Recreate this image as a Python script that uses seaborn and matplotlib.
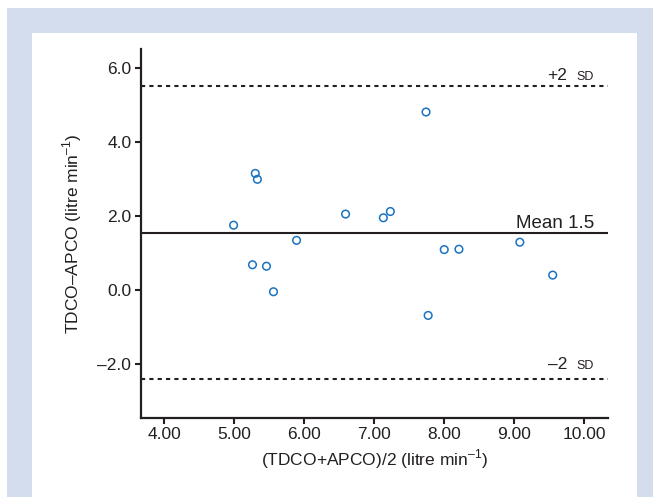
import matplotlib
import numpy as np
import pandas as pd
import seaborn as sns
import matplotlib.pyplot as plt
from matplotlib.patches import Rectangle
from matplotlib.ticker import FuncFormatter

# values
avg_co = [4.99, 5.30, 5.33, 5.26, 5.46, 5.56, 5.89, 6.59,
          7.13, 7.23, 7.74, 7.77, 8.00, 8.21, 9.08, 9.55]
diff_co = [1.75, 3.15, 2.99, 0.68, 0.64, -0.05, 1.34, 2.05,
           1.95, 2.12, 4.81, -0.69, 1.09, 1.10, 1.29, 0.40]
mean_diff = 1.53
upper_sd = 5.51
lower_sd = -2.40
x_ticks = [4, 5, 6, 7, 8, 9, 10]
y_ticks = [-2, 0, 2, 4, 6]

df = pd.DataFrame({'avg': avg_co, 'diff': diff_co})

sns.set_style('ticks')
plt.rcParams['font.family'] = ['Liberation Sans', 'DejaVu Sans']
plt.rcParams['mathtext.fontset'] = 'custom'
plt.rcParams['mathtext.rm'] = 'Liberation Sans'

ink = '#231f20'

fig = plt.figure(figsize=(6.53, 4.97), dpi=100)
fig.patch.set_facecolor('white')
# light blue frame and white panel
fig.patches.append(Rectangle((7 / 653, 0), 1, 1 - 8 / 497, transform=fig.transFigure,
                             facecolor='#d4ddee', edgecolor='none', zorder=-2))
fig.patches.append(Rectangle((32 / 653, 0), (637 - 32) / 653, 1 - 33 / 497,
                             transform=fig.transFigure, facecolor='white',
                             edgecolor='none', zorder=-1))

ax = fig.add_axes([141 / 653, 1 - 417.5 / 497, (608 - 141) / 653, (417.5 - 49.5) / 497])
ax.set_facecolor('none')

blue = '#1a72c0'
sns.scatterplot(data=df, x='avg', y='diff', ax=ax, marker='o', s=30,
                facecolor='none', edgecolor=blue, linewidth=1.1, zorder=3)
ax.collections[0].set_facecolor('none')
ax.collections[0].set_edgecolor(blue)

ax.axhline(mean_diff, color=ink, lw=1.5, zorder=2)
ax.axhline(upper_sd, color=ink, lw=1.5, ls=(0, (2, 2)), zorder=2)
ax.axhline(lower_sd, color=ink, lw=1.5, ls=(0, (2, 2)), zorder=2)

txt = dict(textcoords='offset pixels', va='baseline', color=ink)
ax.annotate('Mean 1.5', xy=(10.14, mean_diff), xytext=(0, 5.5), ha='right', fontsize=13.5, **txt)
ax.annotate('+2', xy=(9.757, upper_sd), xytext=(0, 6), ha='right', fontsize=12.5, **txt)
ax.annotate('SD', xy=(10.14, upper_sd), xytext=(0, 6), ha='right', fontsize=9, **txt)
ax.annotate('\u20132', xy=(9.757, lower_sd), xytext=(0, 9.5), ha='right', fontsize=12.5, **txt)
ax.annotate('SD', xy=(10.14, lower_sd), xytext=(0, 9.5), ha='right', fontsize=9, **txt)

ax.set_xlim(3.667, 10.34)
ax.set_ylim(-3.45, 6.5)
ax.set_xticks(x_ticks)
ax.set_yticks(y_ticks)
ax.xaxis.set_major_formatter(FuncFormatter(lambda v, p: '{:.2f}'.format(v)))
ax.yaxis.set_major_formatter(FuncFormatter(lambda v, p: '{:.1f}'.format(v).replace('-', '\u2013')))
ax.tick_params(axis='both', direction='out', length=4.5, width=1.5, color=ink,
               labelsize=12.5, labelcolor=ink, pad=2.5)

for side in ['top', 'right']:
    ax.spines[side].set_visible(False)
for side in ['left', 'bottom']:
    ax.spines[side].set_linewidth(1.6)
    ax.spines[side].set_color(ink)

ax.set_xlabel('(TDCO+APCO)/2 (litre min$^{\\mathregular{\u2013}1}$)', fontsize=12.5,
              color=ink, labelpad=4)
ax.set_ylabel('TDCO\u2013APCO (litre min$^{\\mathregular{\u2013}1}$)', fontsize=12.5,
              color=ink, labelpad=10)

fig.savefig('out.png', dpi=100)
